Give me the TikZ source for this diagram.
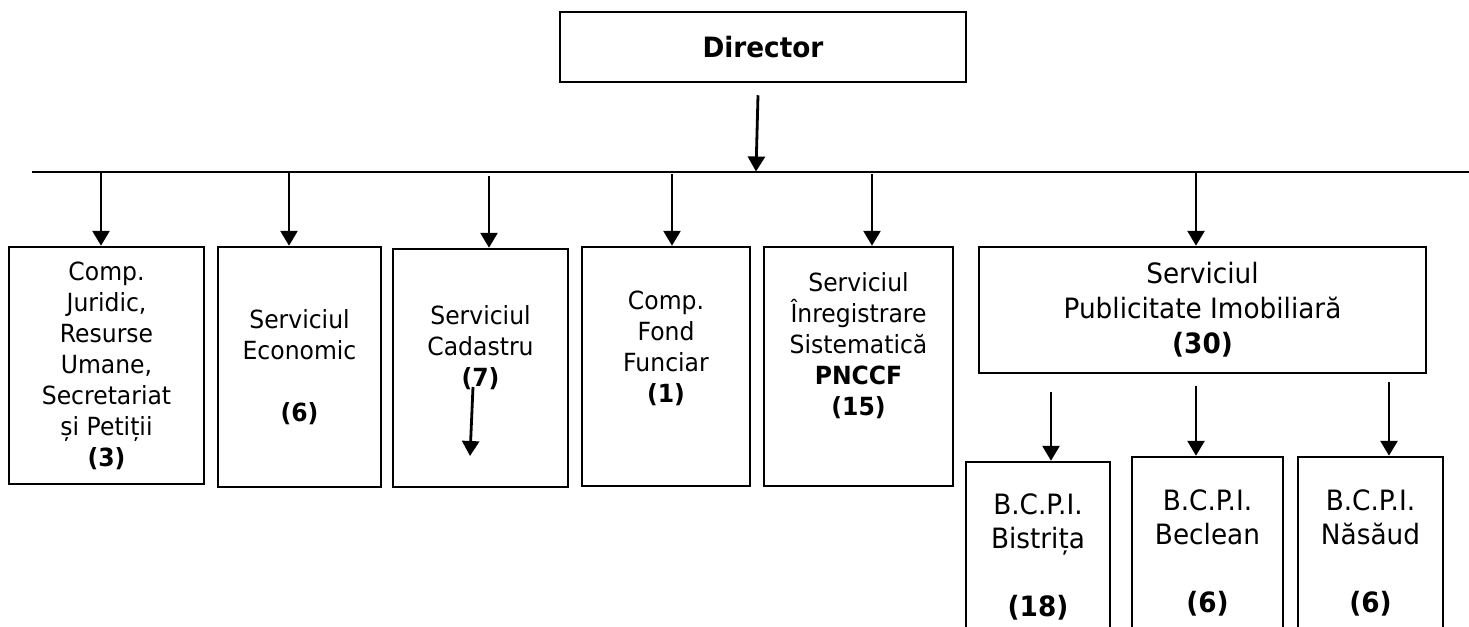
\documentclass[tikz,border=0pt]{standalone}
\usepackage{fontspec}
\setmainfont{DejaVu Sans}[FakeStretch=0.94]
\usetikzlibrary{arrows.meta}

\begin{document}
\begin{tikzpicture}[x=0.5pt, y=-0.5pt,
    >={Triangle[width=8.5pt, length=7.5pt]},
    unit/.style={draw, rectangle, line width=1.25pt, align=center, inner sep=0pt, font=\fontsize{12.5}{15.5}\selectfont},
    office/.style={unit, font=\fontsize{14}{17}\selectfont},
    link/.style={->, line width=1.4pt}]

\useasboundingbox (0,0) rectangle (1469,627);
\clip (0,0) rectangle (1469,627);
\fill[white] (0,0) rectangle (1469,627);

\node[unit, minimum width=203pt, minimum height=35pt, font=\fontsize{14}{17}\selectfont\bfseries] (dir) at (763,47) {Director};

\coordinate (busL) at (32,171.5);
\coordinate (busR) at (1469,171.5);
\draw[line width=1pt] (busL) -- (busR);

\node[unit, minimum width=97.5pt, minimum height=118.5pt] (juridic) at (106.5,365.5) {Comp.\\Juridic,\\Resurse\\Umane,\\Secretariat\\și Petiții\\\textbf{(3)}};
\node[unit, minimum width=81.5pt, minimum height=120pt] (economic) at (299.5,367) {Serviciul\\Economic\\[15.5pt]\textbf{(6)}};
\node[unit, minimum width=87.5pt, minimum height=119pt] (cadastru) at (480.5,368) {Serviciul\\Cadastru\\\textbf{(7)}\\[2pt]\strut};
\node[unit, minimum width=84pt, minimum height=119.5pt] (fond) at (666,366.5) {Comp.\\Fond\\Funciar\\\textbf{(1)}\\\strut};
\node[unit, minimum width=94.5pt, minimum height=119.5pt] (sistematica) at (858.5,366.5) {Serviciul\\Înregistrare\\Sistematică\\\textbf{PNCCF}\\\textbf{(15)}\\[2pt]\strut};
\node[unit, minimum width=223.5pt, minimum height=63pt, font=\fontsize{14}{17.5}\selectfont] (publicitate) at (1202.5,310) {Serviciul\\Publicitate Imobiliară\\\textbf{(30)}};

\node[office, minimum width=72pt, minimum height=95pt] (bistrita) at (1038,557) {B.C.P.I.\\Bistrița\\[17pt]\textbf{(18)}};
\node[office, minimum width=75.5pt, minimum height=96pt] (beclean) at (1207.5,553) {B.C.P.I.\\Beclean\\[17pt]\textbf{(6)}};
\node[office, minimum width=72.5pt, minimum height=96pt] (nasaud) at (1370.5,553) {B.C.P.I.\\Năsăud\\[17pt]\textbf{(6)}};

\draw[link] ([xshift=-2.5pt, yshift=-6pt]dir.south) -- ([xshift=-3.5pt]dir.south |- busL);

\foreach \n/\dx/\gap in {juridic/-2.75/0, economic/-5.25/0, cadastru/4.25/2.25, fond/3/1.25, sistematica/6.75/1.25, publicitate/-3.25/0}
  \draw[link] ([xshift=\dx pt, yshift=-\gap pt]\n.north |- busL) -- ([xshift=\dx pt]\n.north);

\foreach \n/\dx/\gap in {bistrita/6.5/9, beclean/-5.75/6, nasaud/9.25/4}
  \draw[link] ([xshift=\dx pt, yshift=-\gap pt]\n.north |- publicitate.south) -- ([xshift=\dx pt]\n.north);

\coordinate (cadfrom) at (473,387);
\coordinate (cadto) at (470,456);
\draw[link] (cadfrom) -- (cadto);
\end{tikzpicture}
\end{document}
